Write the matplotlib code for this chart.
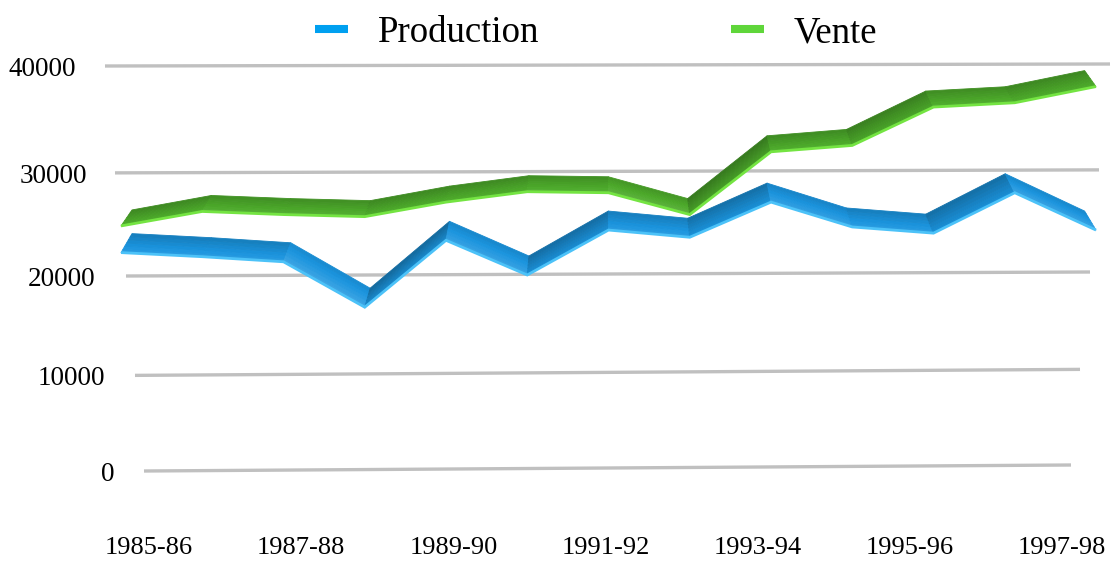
import numpy as np
import matplotlib
matplotlib.use("Agg")
import matplotlib.pyplot as plt
from matplotlib.collections import PolyCollection
from matplotlib.lines import Line2D
from matplotlib.transforms import offset_copy
import matplotlib.colors as mcolors

# ---------------- data ----------------
years = ["1985-86", "1986-87", "1987-88", "1988-89", "1989-90", "1990-91",
         "1991-92", "1992-93", "1993-94", "1994-95", "1995-96", "1996-97",
         "1997-98"]
production = [22300, 21900, 21400, 16900, 23500, 20100, 24500,
              23800, 27200, 24800, 24200, 28100, 24500]
vente = [24900, 26300, 26000, 25800, 27200, 28200, 28100,
         26000, 32000, 32600, 36200, 36600, 38100]
y_ticks = [0, 10000, 20000, 30000, 40000]
x_tick_labels = years[::2]
series_names = ["Production", "Vente"]

# ---------------- layout / style ----------------
W, H, DPI = 1117, 563, 100
SERIF = "Liberation Serif"
fig = plt.figure(figsize=(W / DPI, H / DPI), dpi=DPI)
AX_BOTTOM_PX = 530
ax = fig.add_axes([0, 1 - AX_BOTTOM_PX / H, 1, AX_BOTTOM_PX / H])

# perspective-like value scale (gridlines get closer toward the bottom)
A, B, ZERO_PX = 9.375, 0.01875, 471


def fwd(v):
    k = np.asarray(v, float) / 1000.0
    return A * k + B * k * k


def inv(f):
    f = np.asarray(f, float)
    return (-A + np.sqrt(np.maximum(A * A + 4 * B * f, 0))) / (2 * B) * 1000.0


ax.set_yscale('function', functions=(fwd, inv))
ax.set_ylim(float(inv(ZERO_PX - AX_BOTTOM_PX)), float(inv(ZERO_PX)))
X0_PX, STEP_PX = 121, 81.25
ax.set_xlim(-X0_PX / STEP_PX, (W - X0_PX) / STEP_PX)
ax.axis('off')

to_disp = ax.transData.transform
to_data = ax.transData.inverted().transform

# gridlines (slightly sloped / shortened like the 3D original)
grid_left_px = [144, 135, 126, 115, 105]
grid_right_px = [1071, 1080, 1090, 1099, 1110]
grid_rise_px = [6, 6, 4, 3, 2]
for v, l, r, rise in zip(y_ticks, grid_left_px, grid_right_px, grid_rise_px):
    xl = (l - X0_PX) / STEP_PX
    xr = (r - X0_PX) / STEP_PX
    pl = to_disp((xl, v))
    pr = to_disp((xr, v))
    pr = pr + np.array([0, rise])
    pts = to_data(np.array([pl, pr]))
    ax.plot(pts[:, 0], pts[:, 1], color='#c0c0c0', lw=2.4,
            solid_capstyle='butt', zorder=1)

# y labels
ylabel_right_px = [114, 105, 95, 87, 76]
lbl_trans = offset_copy(ax.transData, fig=fig, x=0, y=-7.0, units='points')
for v, r in zip(y_ticks, ylabel_right_px):
    ax.text((r - X0_PX) / STEP_PX, v, f"{v}", ha='right', va='baseline',
            fontsize=19.5, family=SERIF, color='black', transform=lbl_trans)


def shade_color(base, f):
    base = np.asarray(base)
    if f >= 1:
        return np.clip(base + (1 - base) * (f - 1), 0, 1)
    return np.clip(base * f, 0, 1)


def ribbon(values, base_color, edge_color, depth_px, zorder):
    x = np.arange(len(values))
    P = to_disp(np.column_stack([x, values]))
    dx = 0.023 * (600 - P[:, 0])
    D = np.column_stack([dx, np.full(len(P), depth_px)])
    base = np.array(mcolors.to_rgb(base_color))
    nstrip = 6
    polys, cols = [], []
    for i in range(len(P) - 1):
        seg = P[i + 1] - P[i]
        s = seg[1] / np.hypot(*seg)
        for k in range(nstrip):
            t0, t1 = k / nstrip, (k + 1) / nstrip
            quad = np.array([P[i] + t0 * D[i], P[i + 1] + t0 * D[i + 1],
                             P[i + 1] + t1 * D[i + 1], P[i] + t1 * D[i]])
            polys.append(to_data(quad))
            f = 1.05 - 0.2 * k / (nstrip - 1) - 0.2 * s
            cols.append(shade_color(base, f))
    pc = PolyCollection(polys, facecolors=cols, edgecolors=cols,
                        linewidths=0.6, zorder=zorder)
    ax.add_collection(pc)
    ax.plot(x, values, color=edge_color, lw=2.0, zorder=zorder + 0.1,
            solid_joinstyle='miter', solid_capstyle='butt')


ribbon(vente, '#4caa2a', '#74e442', 16, 3)
ribbon(production, '#1a94de', '#4cc2f8', 19, 5)

# x labels (front floor, own scale for perspective spacing)
ax2 = ax.twiny()
LBL0_PX, LBL_STEP_PX = 149, 76.1
ax2.set_xlim(-LBL0_PX / LBL_STEP_PX, (W - LBL0_PX) / LBL_STEP_PX)
ax2.set_xticks(np.arange(0, len(years), 2))
ax2.set_xticklabels(x_tick_labels, fontsize=19, family=SERIF)
ax2.xaxis.set_ticks_position('bottom')
ax2.tick_params(axis='x', length=0, pad=5)
for s in ax2.spines.values():
    s.set_visible(False)

# legend
handles = [Line2D([], [], color='#00a0f0', lw=5.8, solid_capstyle='butt'),
           Line2D([], [], color='#5fd63a', lw=5.8, solid_capstyle='butt')]
fig.legend(handles, series_names, loc='center',
           bbox_to_anchor=(596 / W, 1 - 33 / H), ncol=2, frameon=False,
           prop={'family': SERIF, 'size': 26.5}, handlelength=0.92,
           handletextpad=0.8, columnspacing=5.2, borderpad=0,
           borderaxespad=0)

fig.savefig("out.png", dpi=DPI)
